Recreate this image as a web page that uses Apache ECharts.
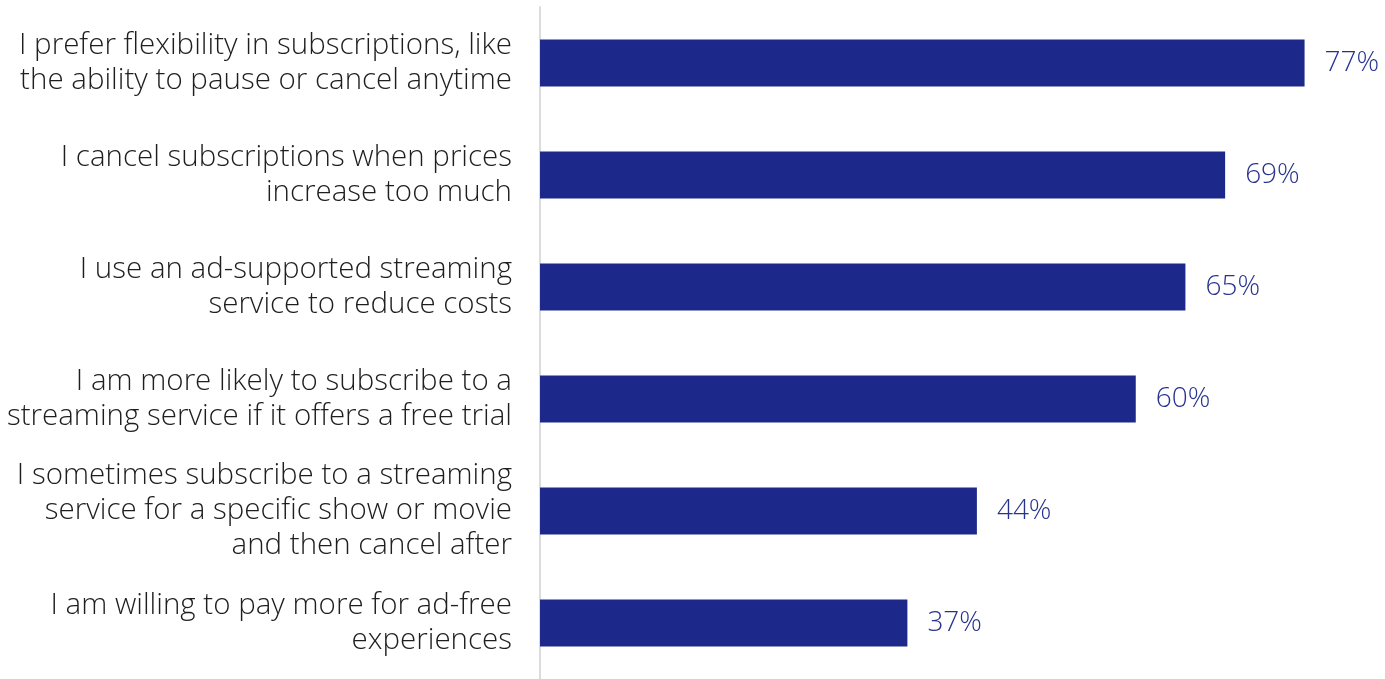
<!DOCTYPE html>
<html>
<head>
<meta charset="utf-8">
<script src="https://cdn.jsdelivr.net/npm/echarts@6/dist/echarts.min.js"></script>
<style>html,body{margin:0;padding:0;background:#fff}#c{width:1385px;height:679px}</style>
</head>
<body>
<div id="c"></div>
<script>
const categories = [
  "I prefer flexibility in subscriptions, like\nthe ability to pause or cancel anytime",
  "I cancel subscriptions when prices\nincrease too much",
  "I use an ad-supported streaming\nservice to reduce costs",
  "I am more likely to subscribe to a\nstreaming service if it offers a free trial",
  "I sometimes subscribe to a streaming\nservice for a specific show or movie\nand then cancel after",
  "I am willing to pay more for ad-free\nexperiences"
];
const values = [77, 69, 65, 60, 44, 37];

const chart = echarts.init(document.getElementById('c'), null, {renderer: 'canvas'});
chart.setOption({
  animation: false,
  grid: {left: 540, right: 1, top: 7, bottom: -3, containLabel: false},
  xAxis: {type: 'value', min: 0, max: 85, show: false},
  yAxis: {
    type: 'category', inverse: true, data: categories,
    axisLine: {show: true, lineStyle: {color: '#dcdcdc', width: 2}},
    axisTick: {show: false},
    axisLabel: {margin: 28, fontFamily: 'Open Sans', fontWeight: 300, fontSize: 29.5, lineHeight: 35, color: '#1e1e1e', align: 'right',
      verticalAlign: 'middle', padding: [8, 0, 0, 0], backgroundColor: 'rgba(255,255,255,0)'}
  },
  series: [{
    type: 'bar', data: values, barWidth: 47,
    itemStyle: {color: '#1c288a'},
    label: {show: true, position: 'right', distance: 20, formatter: '{c}%', fontFamily: 'Open Sans', fontWeight: 300, fontSize: 28, color: '#27328f',
      padding: [5, 0, 0, 0], backgroundColor: 'rgba(255,255,255,0)'}
  }]
});
</script>
</body>
</html>
